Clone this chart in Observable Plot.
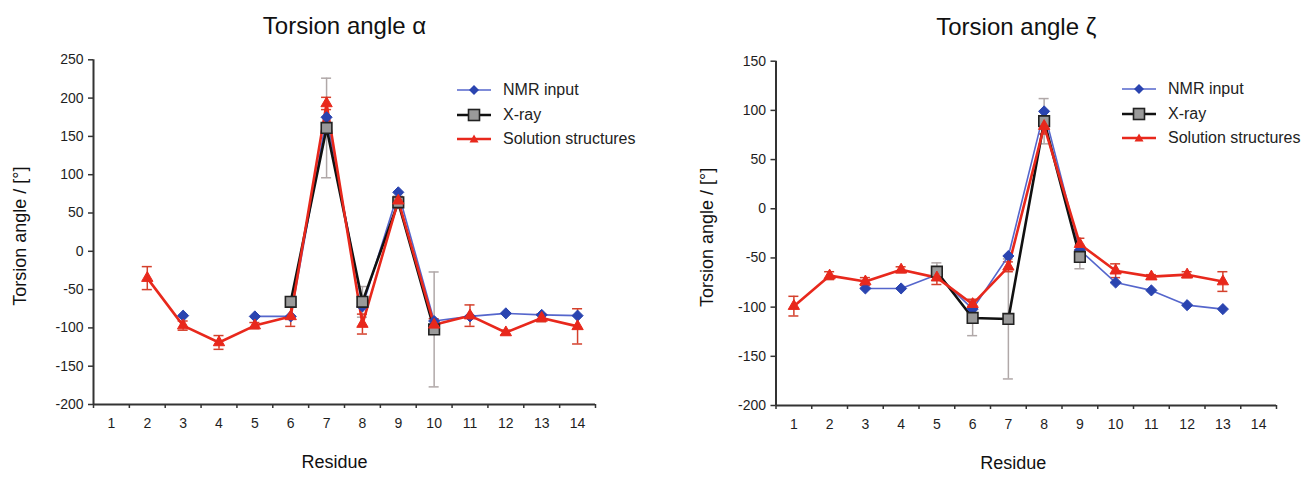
<!DOCTYPE html>
<html>
<head>
<meta charset="utf-8">
<script src="https://cdn.jsdelivr.net/npm/d3@7"></script>
<script src="https://cdn.jsdelivr.net/npm/@observablehq/plot@0.6"></script>
<style>
  html, body { margin: 0; padding: 0; background: #fff; }
  #wrap { position: relative; width: 1306px; height: 479px; overflow: hidden; font-family: "Liberation Sans", Arial, sans-serif; }
  .panel { position: absolute; top: 0; }
  .legend { position: absolute; font-size: 16px; color: #222; }
  .legend .row { position: absolute; left: 0; white-space: nowrap; height: 20px; line-height: 20px; }
  .legend svg { position: absolute; left: 0; top: 2px; }
  .legend span { position: absolute; left: 46px; top: 0; }
</style>
</head>
<body>
<div id="wrap"></div>
<script>
// ---------- data ----------
const residues = [1, 2, 3, 4, 5, 6, 7, 8, 9, 10, 11, 12, 13, 14];
const boundaries = [0.5, 1.5, 2.5, 3.5, 4.5, 5.5, 6.5, 7.5, 8.5, 9.5, 10.5, 11.5, 12.5, 13.5, 14.5];
const seriesNames = ["NMR input", "X-ray", "Solution structures"];

const alphaTitle = "Torsion angle α";
const alphaTicks = [-200, -150, -100, -50, 0, 50, 100, 150, 200, 250];
const alphaNMR     = [null, null, -84, null, -85, -85, 175, -72, 77, -91, -85, -81, -83, -84];
const alphaXray    = [null, null, null, null, null, -66, 161, -66, 64, -102, null, null, null, null];
const alphaXrayErr = [null, null, null, null, null, 0, 65, 20, 8, 75, null, null, null, null];
const alphaSol     = [null, -35, -97, -119, -97, -85, 193, -95, 66, -96, -84, -106, -87, -98];
const alphaSolErr  = [null, 15, 6, 9, 4, 13, 8, 13, 5, 8, 14, 3, 5, 23];

const zetaTitle = "Torsion angle ζ";
const zetaTicks = [-200, -150, -100, -50, 0, 50, 100, 150];
const zetaNMR     = [null, null, -81, -81, -67, -102, -48, 99, -42, -75, -83, -98, -102, null];
const zetaXray    = [null, null, null, null, -64, -111, -112, 89, -49, null, null, null, null, null];
const zetaXrayErr = [null, null, null, null, 9, 18, 61, 23, 12, null, null, null, null, null];
const zetaSol     = [-99, -68, -74, -62, -70, -97, -59, 84, -36, -63, -69, -67, -74, null];
const zetaSolErr  = [10, 4, 4, 3, 7, 5, 5, 8, 6, 7, 2, 3, 10, null];

const yLabel = "Torsion angle / [°]";
const xLabel = "Residue";

// ---------- style ----------
const C = {
  nmrLine: "#5566cc", nmrDot: "#2a44b0",
  xrayLine: "#111111", xrayFill: "#9a9a9a", xrayErr: "#b0a8a8",
  solLine: "#e8281c", solErr: "#d4402c",
  axis: "#333333", text: "#1e1e1e"
};
const FONT = "'Liberation Sans', Arial, Helvetica, sans-serif";

function makeChart(cfg) {
  const rows = residues.map((r, i) => ({
    x: r, nmr: cfg.nmr[i], xray: cfg.xray[i], xrayErr: cfg.xrayErr[i],
    sol: cfg.sol[i], solErr: cfg.solErr[i]
  }));
  const xr = rows.filter(d => d.xray != null && d.xrayErr);
  const sr = rows.filter(d => d.sol != null && d.solErr);
  const cap = 0.14;
  return Plot.plot({
    width: cfg.width, height: 479,
    marginLeft: cfg.ml, marginRight: cfg.mr, marginTop: cfg.mt, marginBottom: cfg.mb,
    x: {domain: [0.5, 14.5]},
    y: {domain: [cfg.ticks[0], cfg.ticks[cfg.ticks.length - 1]]},
    style: {fontFamily: FONT, fontSize: "14px", color: C.text, background: "transparent", overflow: "visible"},
    marks: [
      // axes
      Plot.axisY(cfg.ticks, {tickSize: 5, tickPadding: 5, label: null, stroke: C.axis, strokeWidth: 1.5, tickFormat: d => String(d), fontSize: 14}),
      Plot.axisX(boundaries, {tickSize: 4, tickFormat: () => "", label: null, stroke: C.axis, strokeWidth: 1.5}),
      Plot.axisX(residues, {tickSize: 0, tickPadding: 14, label: null, tickFormat: d => String(d), fontSize: 14}),
      Plot.ruleX([0.5], {stroke: C.axis, strokeWidth: 2}),
      Plot.ruleY([cfg.ticks[0]], {stroke: C.axis, strokeWidth: 2}),
      // titles / labels
      Plot.text([cfg.title], {frameAnchor: "top", dy: -26, dx: cfg.titleDx, lineAnchor: "bottom", fontSize: 24, fill: "#111"}),
      Plot.text([yLabel], {frameAnchor: "left", textAnchor: "middle", rotate: -90, dx: -cfg.yLabelOff, dy: 4, fontSize: 18, fill: "#111"}),
      Plot.text([xLabel], {frameAnchor: "bottom", dy: 63, dx: cfg.xLabelDx, fontSize: 18, fill: "#111"}),
      // error bars X-ray
      Plot.ruleX(xr, {x: "x", y1: d => d.xray - d.xrayErr, y2: d => d.xray + d.xrayErr, stroke: C.xrayErr, strokeWidth: 1.5}),
      Plot.ruleY(xr, {y: d => d.xray - d.xrayErr, x1: d => d.x - cap, x2: d => d.x + cap, stroke: C.xrayErr, strokeWidth: 1.5}),
      Plot.ruleY(xr, {y: d => d.xray + d.xrayErr, x1: d => d.x - cap, x2: d => d.x + cap, stroke: C.xrayErr, strokeWidth: 1.5}),
      // error bars solution
      Plot.ruleX(sr, {x: "x", y1: d => d.sol - d.solErr, y2: d => d.sol + d.solErr, stroke: C.solErr, strokeWidth: 1.5}),
      Plot.ruleY(sr, {y: d => d.sol - d.solErr, x1: d => d.x - cap, x2: d => d.x + cap, stroke: C.solErr, strokeWidth: 1.5}),
      Plot.ruleY(sr, {y: d => d.sol + d.solErr, x1: d => d.x - cap, x2: d => d.x + cap, stroke: C.solErr, strokeWidth: 1.5}),
      // lines
      Plot.line(rows, {x: "x", y: "nmr", stroke: C.nmrLine, strokeWidth: 1.6}),
      Plot.line(rows, {x: "x", y: "xray", stroke: C.xrayLine, strokeWidth: 2.6}),
      Plot.line(rows, {x: "x", y: "sol", stroke: C.solLine, strokeWidth: 2.6}),
      // markers
      Plot.dot(rows, {x: "x", y: "nmr", symbol: "diamond2", r: 5, fill: C.nmrDot, stroke: C.nmrDot, strokeWidth: 1}),
      Plot.dot(rows, {x: "x", y: "xray", symbol: "square", r: 6, fill: C.xrayFill, stroke: "#222", strokeWidth: 1.6}),
      Plot.dot(rows, {x: "x", y: "sol", symbol: "triangle", r: 4.2, fill: C.solLine, stroke: C.solLine, strokeWidth: 1})
    ]
  });
}

function makeLegend(left, top) {
  const div = document.createElement("div");
  div.className = "legend";
  div.style.left = left + "px";
  div.style.top = top + "px";
  const specs = [
    {line: C.nmrLine, lw: 1.6, sym: "diamond"},
    {line: C.xrayLine, lw: 2.6, sym: "square"},
    {line: C.solLine, lw: 2.6, sym: "triangle"}
  ];
  const step = 24.5;
  seriesNames.forEach((name, i) => {
    const s = specs[i];
    const row = document.createElement("div");
    row.className = "row";
    row.style.top = (i * step) + "px";
    let marker = "";
    if (s.sym === "diamond") marker = `<path d="M17,3 L22,8 L17,13 L12,8 Z" fill="${C.nmrDot}"/>`;
    if (s.sym === "square") marker = `<rect x="11.5" y="2.5" width="11" height="11" fill="${C.xrayFill}" stroke="#222" stroke-width="1.6"/>`;
    if (s.sym === "triangle") marker = `<path d="M17,3.5 L21.5,11.5 L12.5,11.5 Z" fill="${C.solLine}"/>`;
    row.innerHTML = `<svg width="34" height="16"><line x1="0" y1="8" x2="34" y2="8" stroke="${s.line}" stroke-width="${s.lw}"/>${marker}</svg><span>${name}</span>`;
    div.appendChild(row);
  });
  return div;
}

const wrap = document.getElementById("wrap");

const left = makeChart({
  title: alphaTitle, ticks: alphaTicks, nmr: alphaNMR, xray: alphaXray, xrayErr: alphaXrayErr,
  sol: alphaSol, solErr: alphaSolErr,
  width: 650, ml: 93, mr: 55, mt: 59.3, mb: 75, titleDx: 0, yLabelOff: 73, xLabelDx: -10
});
left.classList.add("panel");
left.style.left = "0px";
wrap.appendChild(left);

const right = makeChart({
  title: zetaTitle, ticks: zetaTicks, nmr: zetaNMR, xray: zetaXray, xrayErr: zetaXrayErr,
  sol: zetaSol, solErr: zetaSolErr,
  width: 656, ml: 125.5, mr: 30, mt: 60.7, mb: 74, titleDx: -10, yLabelOff: 69, xLabelDx: -13
});
right.classList.add("panel");
right.style.left = "650px";
wrap.appendChild(right);

wrap.appendChild(makeLegend(457, 80));
wrap.appendChild(makeLegend(1122, 79));
</script>
</body>
</html>
